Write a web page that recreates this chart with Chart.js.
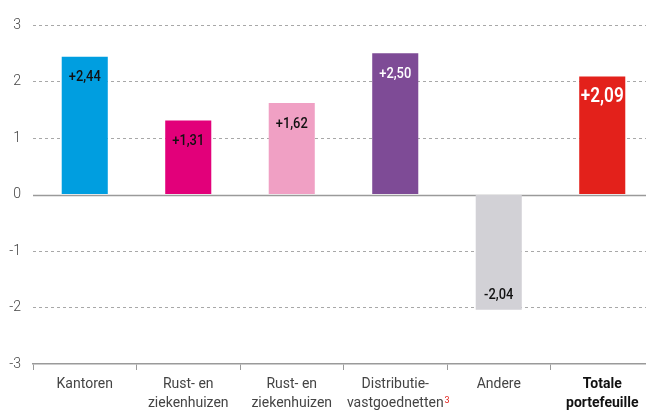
<!DOCTYPE html>
<html><head><meta charset="utf-8">
<script src="https://cdn.jsdelivr.net/npm/chart.js@4"></script>
<style>html,body{margin:0;padding:0;background:#fff;overflow:hidden}#wrap{width:646px;height:411px;overflow:hidden}canvas{display:block}</style>
</head><body><div id="wrap"><canvas id="c" width="654" height="411"></canvas></div>
<script>
const categories = [["Kantoren"], ["Rust- en", "ziekenhuizen"], ["Rust- en", "ziekenhuizen"], ["Distributie-", "vastgoednetten"], ["Andere"], ["Totale", "portefeuille"]];
const values = [2.44, 1.31, 1.62, 2.50, -2.04, 2.09];
const valueLabels = ["+2,44", "+1,31", "+1,62", "+2,50", "-2,04", "+2,09"];
const barColors = ["#009EE0", "#E2007A", "#F0A0C4", "#7E4B96", "#D2D1D6", "#E3211B"];
const labelColors = ["#111", "#111", "#111", "#fff", "#111", "#fff"];
const yTicks = [-3, -2, -1, 0, 1, 2, 3];

const labelPlugin = {
  id: 'valueLabels',
  afterDatasetsDraw(chart) {
    const ctx = chart.ctx;
    const meta = chart.getDatasetMeta(0);
    meta.data.forEach((bar, i) => {
      const big = i === 5;
      ctx.save();
      ctx.textAlign = 'center';
      ctx.textBaseline = 'middle';
      ctx.font = (big ? '600 20px' : '500 15px') + ' Roboto, sans-serif';
      ctx.fillStyle = labelColors[i];
      const y = values[i] >= 0 ? bar.y + 21 : bar.y - 15;
      ctx.translate(bar.x, y);
      ctx.scale(0.86, 1);
      ctx.fillText(valueLabels[i], 0, 0);
      ctx.restore();
    });
  }
};
const zeroLine = {
  id: 'zeroLine',
  beforeDatasetsDraw(chart) {
    const ctx = chart.ctx, ya = chart.scales.y, a = chart.chartArea;
    const y0 = Math.round(ya.getPixelForValue(0)) + 0.5;
    ctx.save();
    ctx.strokeStyle = '#9a9a9a'; ctx.lineWidth = 1.5;
    ctx.beginPath(); ctx.moveTo(a.left, y0); ctx.lineTo(a.right, y0); ctx.stroke();
    ctx.restore();
  },
  afterDraw(chart) {
    const ctx = chart.ctx, xa = chart.scales.x;
    const x = xa.getPixelForTick(3);
    ctx.save();
    ctx.font = '14px Roboto, sans-serif';
    const w = ctx.measureText('vastgoednetten').width;
    ctx.font = '9px Roboto, sans-serif';
    ctx.fillStyle = '#E3211B';
    ctx.textBaseline = 'alphabetic';
    ctx.textAlign = 'left';
    const ly = xa.top + 11 + 14 + 19;
    ctx.fillText('3', x + w / 2 + 1, ly - 5);
    ctx.restore();
  }
};

new Chart(document.getElementById('c'), {
  type: 'bar',
  data: {
    labels: categories,
    datasets: [{
      data: values,
      backgroundColor: barColors,
      barPercentage: 0.445,
      categoryPercentage: 1.0
    }]
  },
  plugins: [zeroLine, labelPlugin],
  options: {
    responsive: false,
    animation: false,
    layout: { padding: { top: 25, right: 0, left: 0, bottom: 0 } },
    plugins: { legend: { display: false }, tooltip: { enabled: false } },
    scales: {
      x: {
        offset: true,
        afterFit(scale) { scale.height = 47; },
        grid: { offset: true, drawOnChartArea: false, drawTicks: true, tickLength: 6, color: '#9a9a9a', lineWidth: 1 },
        border: { display: true, color: '#9a9a9a', width: 1.5 },
        ticks: {
          padding: 5,
          maxRotation: 0,
          autoSkip: false,
          color: ctx => ctx.index === 5 ? '#111' : '#444',
          font: ctx => ctx.index === 5 ? { family: 'Roboto, sans-serif', size: 14, weight: 'bold', lineHeight: 1.35 } : { family: 'Roboto, sans-serif', size: 14, lineHeight: 1.35 }
        }
      },
      y: {
        min: -3, max: 3,
        afterFit(scale) { scale.width = 33; },
        afterBuildTicks(scale) { scale.ticks = yTicks.map(v => ({ value: v })); },
        grid: {
          drawTicks: false,
          color: ctx => (ctx.tick && (ctx.tick.value === 0 || ctx.tick.value === -3)) ? 'rgba(0,0,0,0)' : '#a8a8a8',
          lineWidth: 1
        },
        border: { display: false, dash: [3, 3] },
        ticks: {
          padding: 12,
          color: '#444',
          font: { family: 'Roboto, sans-serif', size: 14, weight: '300' },
          callback: v => String(v)
        }
      }
    }
  }
});
</script>
</body></html>
